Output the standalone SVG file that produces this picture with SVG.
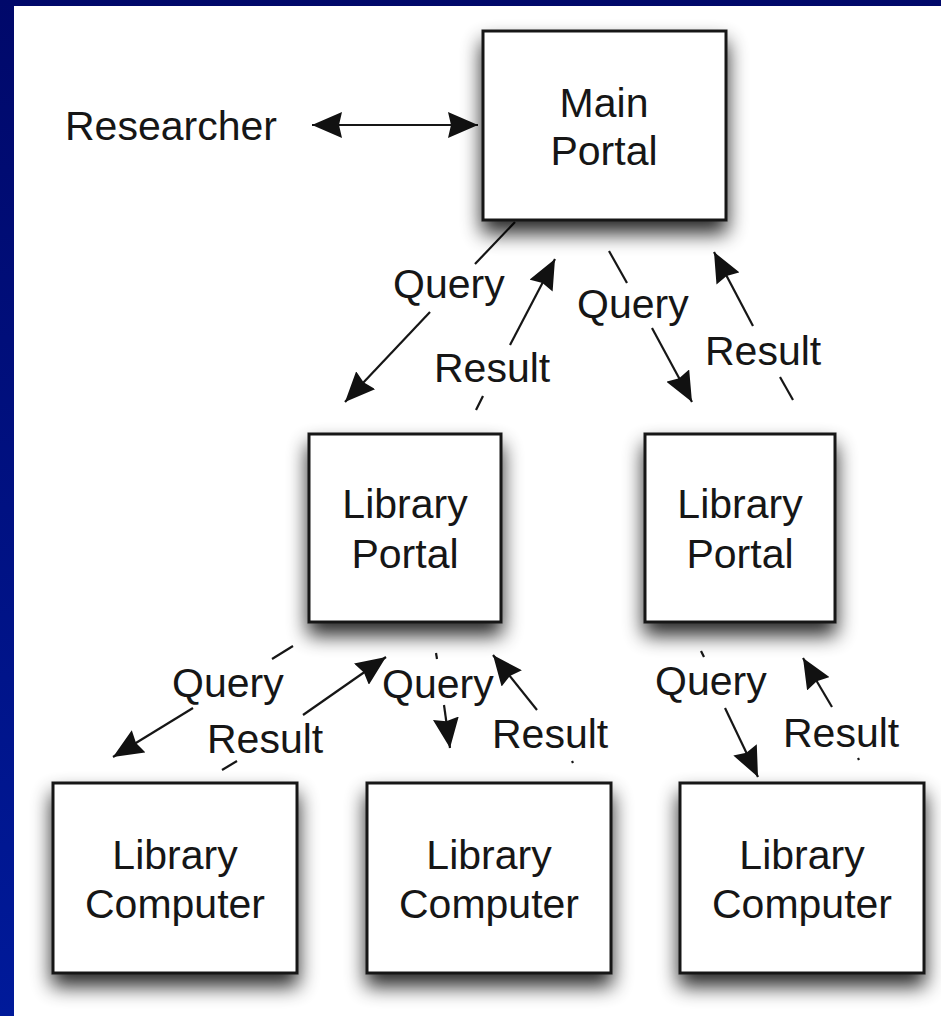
<svg xmlns="http://www.w3.org/2000/svg" width="941" height="1016" viewBox="0 0 941 1016">
<defs>
<linearGradient id="bg" x1="0" y1="0" x2="0" y2="1">
<stop offset="0" stop-color="#00086a"/>
<stop offset="1" stop-color="#001a9a"/>
</linearGradient>
<filter id="shadow" x="-25%" y="-25%" width="150%" height="160%">
<feGaussianBlur in="SourceAlpha" stdDeviation="10"/>
<feOffset dx="0" dy="12" result="b"/>
<feComponentTransfer><feFuncA type="linear" slope="0.85"/></feComponentTransfer>
<feMerge><feMergeNode/><feMergeNode in="SourceGraphic"/></feMerge>
</filter>
<marker id="ah" markerUnits="userSpaceOnUse" markerWidth="32" markerHeight="26" refX="30" refY="13" orient="auto-start-reverse">
<path d="M0,0 L30,13 L0,26 L3,13 Z" fill="#111"/>
</marker>
</defs>
<style>
.box{fill:#fff;stroke:#161616;stroke-width:3}
.t{font-family:"Liberation Sans",Arial,Helvetica,sans-serif;font-size:41px;fill:#161616}
.c{text-anchor:middle}
.ln{stroke:#161616;stroke-width:2.2;fill:none}
</style>
<rect x="0" y="0" width="941" height="1016" fill="url(#bg)"/>
<rect x="14" y="6" width="927" height="1010" fill="#fff"/>

<g id="connectors">
<line class="ln" x1="312" y1="125" x2="478" y2="125" marker-start="url(#ah)" marker-end="url(#ah)"/>
<line class="ln" x1="515" y1="222" x2="475" y2="264"/>
<line class="ln" x1="430" y1="312" x2="345" y2="402" marker-end="url(#ah)"/>
<line class="ln" x1="476" y1="410" x2="483" y2="396"/>
<line class="ln" x1="510" y1="345" x2="555" y2="259" marker-end="url(#ah)"/>
<line class="ln" x1="609" y1="251" x2="627" y2="283"/>
<line class="ln" x1="652" y1="328" x2="692" y2="402" marker-end="url(#ah)"/>
<line class="ln" x1="793" y1="400" x2="780" y2="377"/>
<line class="ln" x1="753" y1="326" x2="714" y2="252" marker-end="url(#ah)"/>
<line class="ln" x1="293" y1="646" x2="272" y2="659"/>
<line class="ln" x1="193" y1="708" x2="113" y2="757" marker-end="url(#ah)"/>
<line class="ln" x1="222" y1="770" x2="237" y2="761"/>
<line class="ln" x1="303" y1="715" x2="386" y2="657" marker-end="url(#ah)"/>
<line class="ln" x1="436" y1="653" x2="437" y2="659"/>
<line class="ln" x1="444" y1="705" x2="450" y2="748" marker-end="url(#ah)"/>
<line class="ln" x1="537" y1="710" x2="493" y2="655" marker-end="url(#ah)"/>
<line class="ln" x1="572" y1="761" x2="573" y2="763"/>
<line class="ln" x1="701" y1="651" x2="704" y2="657"/>
<line class="ln" x1="725" y1="708" x2="758" y2="777" marker-end="url(#ah)"/>
<line class="ln" x1="832" y1="707" x2="803" y2="658" marker-end="url(#ah)"/>
<line class="ln" x1="858" y1="758" x2="859" y2="760"/>
</g>

<g id="labels">
<text class="t" x="65" y="140">Researcher</text>
<text class="t" x="393" y="298">Query</text>
<text class="t" x="434" y="382">Result</text>
<text class="t" x="577" y="318">Query</text>
<text class="t" x="705" y="365">Result</text>
<text class="t" x="172" y="697">Query</text>
<text class="t" x="207" y="753">Result</text>
<text class="t" x="382" y="698">Query</text>
<text class="t" x="492" y="748">Result</text>
<text class="t" x="655" y="695">Query</text>
<text class="t" x="783" y="747">Result</text>
</g>

<g id="main-portal">
<rect class="box" x="483" y="31" width="243" height="189" filter="url(#shadow)"/>
<text class="t c" x="604" y="117">Main</text>
<text class="t c" x="604" y="165">Portal</text>
</g>
<g id="library-portal-1">
<rect class="box" x="309" y="434" width="192" height="188" filter="url(#shadow)"/>
<text class="t c" x="405" y="518">Library</text>
<text class="t c" x="405" y="568">Portal</text>
</g>
<g id="library-portal-2">
<rect class="box" x="645" y="434" width="190" height="188" filter="url(#shadow)"/>
<text class="t c" x="740" y="518">Library</text>
<text class="t c" x="740" y="568">Portal</text>
</g>
<g id="library-computer-1">
<rect class="box" x="53" y="783" width="244" height="190" filter="url(#shadow)"/>
<text class="t c" x="175" y="869">Library</text>
<text class="t c" x="175" y="918">Computer</text>
</g>
<g id="library-computer-2">
<rect class="box" x="367" y="783" width="244" height="190" filter="url(#shadow)"/>
<text class="t c" x="489" y="869">Library</text>
<text class="t c" x="489" y="918">Computer</text>
</g>
<g id="library-computer-3">
<rect class="box" x="680" y="783" width="244" height="190" filter="url(#shadow)"/>
<text class="t c" x="802" y="869">Library</text>
<text class="t c" x="802" y="918">Computer</text>
</g>
</svg>
